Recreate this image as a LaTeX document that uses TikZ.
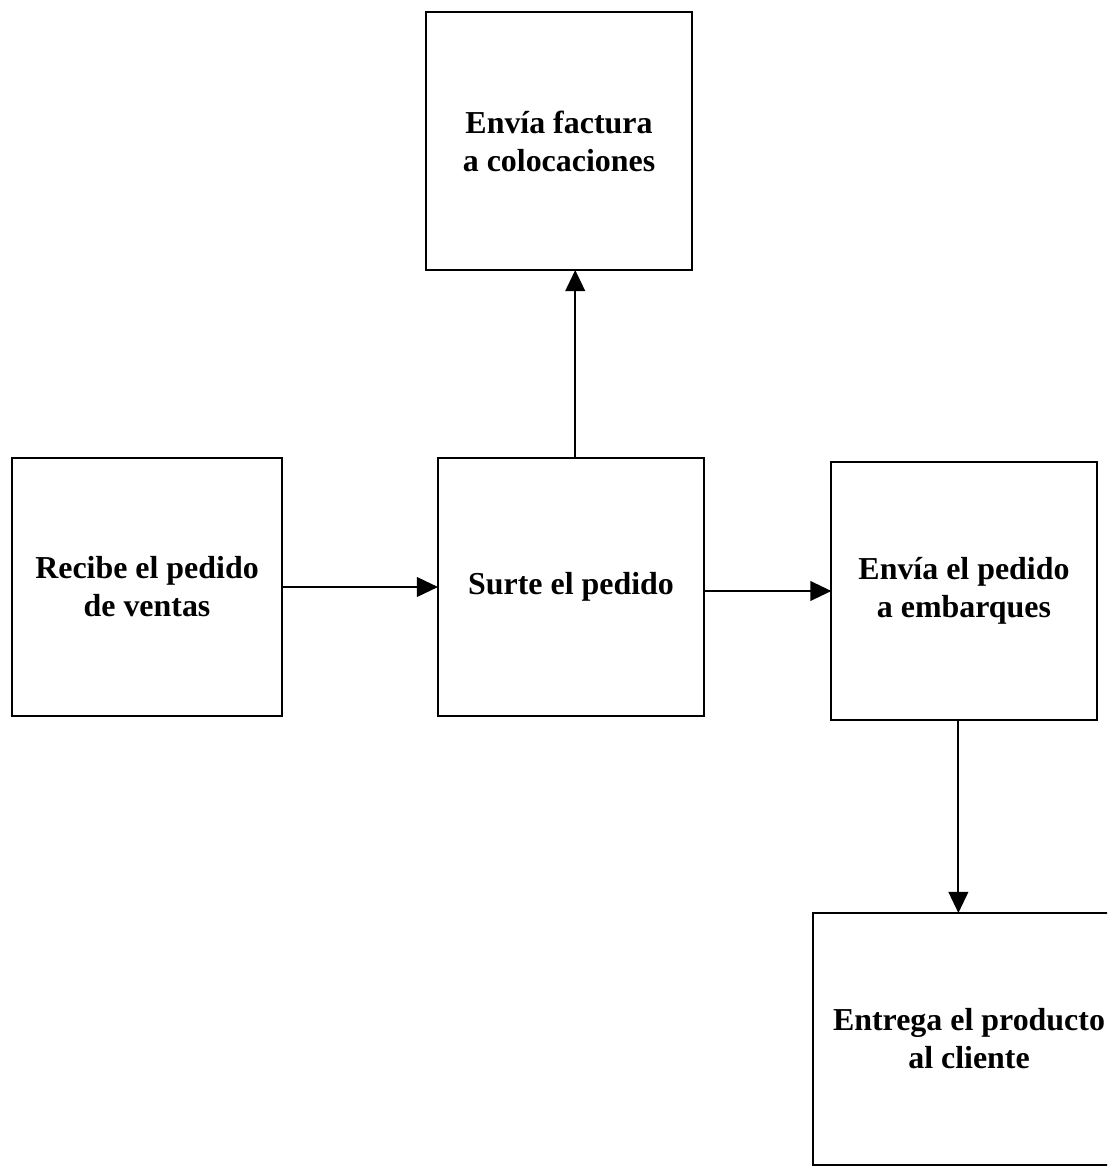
\documentclass[tikz,border=0pt]{standalone}
\usepackage{fontspec}
\setmainfont{Liberation Serif}
\usetikzlibrary{arrows.meta}

\tikzset{
  caja/.style={draw, line width=1.5pt, outer sep=0pt, align=center,
    font=\fontsize{22.7}{27}\selectfont\bfseries},
  flecha/.style={line width=1.4pt, -{Triangle[length=15pt, width=14pt]}}
}

\begin{document}
\begin{tikzpicture}[x=0.025cm, y=-0.025cm]
\useasboundingbox (0,0) rectangle (1107,1168);
\clip (0,0) rectangle (1107,1168);

\node (F) at (559,141) [caja, minimum width=6.65cm, minimum height=6.45cm] {Envía factura\\a colocaciones};
\node (R) at (147,587) [caja, minimum width=6.75cm, minimum height=6.43cm] {Recibe el pedido\\de ventas};
\node (S) at (571,587) [caja, minimum width=6.65cm, minimum height=6.45cm] {Surte el pedido};
\node (E) at (964,591) [caja, minimum width=6.63cm, minimum height=6.45cm] {Envía el pedido\\a embarques};
\node (P) at (969,1039) [caja, minimum width=7.8cm, minimum height=6.3cm] {Entrega el producto\\al cliente};

\draw [flecha] (R) -- (S);
\draw [flecha] (S.east |- E) -- (E.west);
\draw [flecha] ([xshift=3]S.north) -- ([xshift=3]S.north |- F.south);
\draw [flecha] ([xshift=-4]E.south) -- ([xshift=-4]E.south |- P.north);

\end{tikzpicture}
\end{document}
